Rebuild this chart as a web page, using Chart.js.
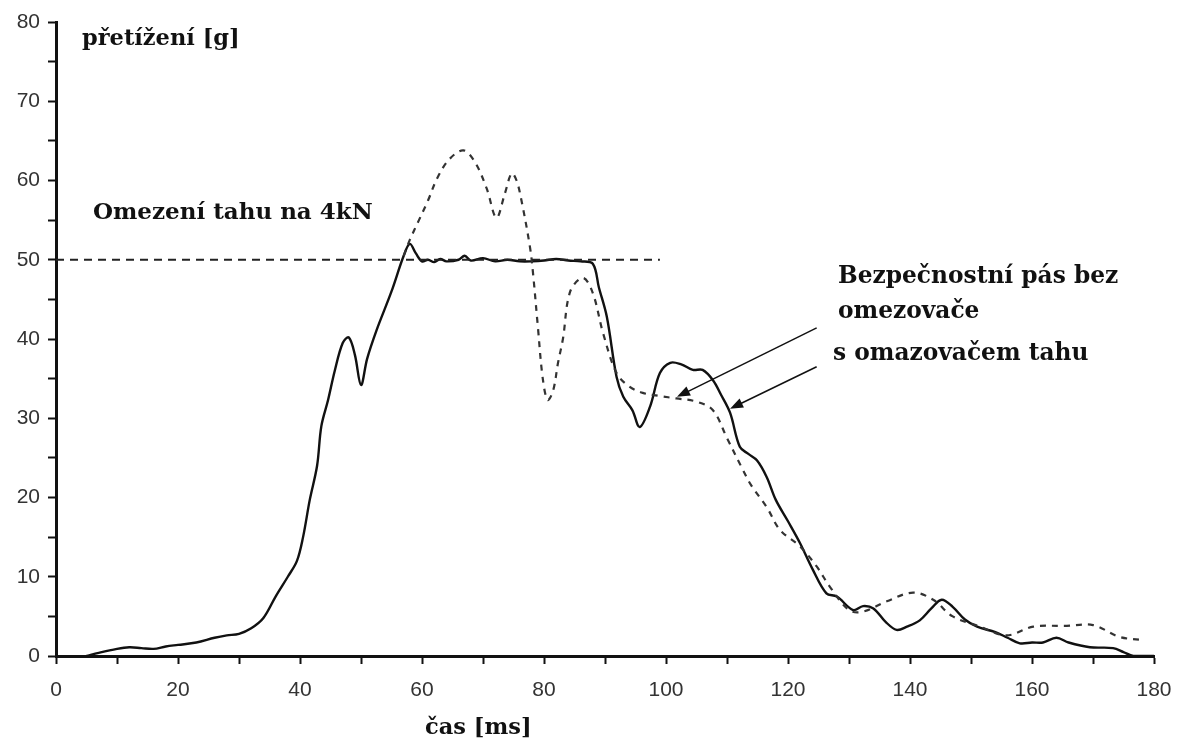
<!DOCTYPE html>
<html lang="cs">
<head>
<meta charset="utf-8">
<title>přetížení [g]</title>
<script src="https://cdn.jsdelivr.net/npm/chart.js@4.4.1/dist/chart.umd.min.js"></script>
<style>
  html, body { margin: 0; padding: 0; background: #fff; }
  #wrap { width: 1179px; height: 744px; position: relative; }
</style>
</head>
<body>
<div id="wrap"><canvas id="chart" width="1179" height="744"></canvas></div>
<script>
// s omezovačem tahu (solid)
const limitedX = [5, 7, 10, 12, 14, 16, 18, 20, 23, 26, 28, 30, 32, 34, 36, 38, 39.5, 40.5, 41.6, 42.8, 43.5, 44.6, 45.7, 47, 48, 49, 50, 51, 52.5, 55, 57, 58, 59, 60, 61, 62, 63, 64, 66, 67, 68, 70, 72, 74, 76, 78, 80, 82, 84, 86, 88, 89, 90.3, 91.9, 93, 94.5, 95.7, 97.4, 99, 100.7, 102.5, 104.4, 106, 107.7, 109, 110.5, 112.1, 113.5, 114.9, 116.5, 118, 120, 122, 124, 126.3, 128, 130.7, 132.3, 134, 136, 137.8, 139.5, 141.6, 143.5, 145.2, 147, 149, 151, 154, 156, 158, 160, 161.8, 164, 166, 169.5, 173.3, 175, 176.6, 180];
const limitedY = [0, 0.4, 0.9, 1.1, 1.0, 0.9, 1.2, 1.4, 1.7, 2.3, 2.6, 2.8, 3.5, 4.8, 7.5, 10, 12, 15, 19.7, 24, 29, 32.3, 36, 39.5, 40.2, 38, 34.2, 37.5, 41, 46, 50.5, 52, 50.8, 49.8, 50, 49.7, 50.1, 49.8, 50, 50.5, 49.9, 50.2, 49.8, 50, 49.8, 49.8, 49.9, 50.1, 49.9, 49.8, 49.5, 46.5, 42.8, 35.2, 32.7, 31, 28.9, 31.5, 35.7, 37, 36.8, 36.1, 36.1, 34.8, 33, 30.7, 26.4, 25.5, 24.7, 22.6, 19.7, 17, 14.2, 11, 7.9, 7.5, 5.8, 6.3, 6, 4.3, 3.3, 3.7, 4.5, 6, 7.1, 6.2, 4.6, 3.7, 3, 2.3, 1.6, 1.7, 1.7, 2.3, 1.7, 1.1, 1, 0.5, 0, 0];

// bez omezovače (dashed), splits off the solid curve near 57 ms
const freeX = [57, 58, 59.5, 61, 62.5, 64.5, 66.8, 68.7, 70.6, 72.2, 73.6, 74.7, 75.5, 76.3, 77.7, 78.2, 79, 79.8, 80.6, 81.5, 82.3, 83.1, 84.3, 86.4, 88, 89.7, 91.9, 94, 96.2, 99, 101.7, 105, 107.7, 110, 112.6, 114, 116.5, 118.7, 122, 124.7, 126.9, 130, 132.3, 136.2, 140.5, 143.8, 147, 151.5, 155.8, 160.2, 165.7, 170, 174.4, 178.5];
const freeY = [50.5, 52.5, 55, 57.5, 60.3, 62.7, 63.8, 62.3, 59, 55.3, 58.4, 60.9, 60, 57.5, 51.6, 48.3, 41.5, 35, 32.3, 33.5, 37, 40, 46, 47.7, 45.8, 40.7, 35.7, 34, 33.2, 32.8, 32.5, 32.1, 31, 27.5, 23.5, 21.5, 18.8, 15.9, 13.8, 11.3, 8.7, 5.8, 5.6, 6.9, 8, 7.1, 5, 3.7, 2.6, 3.7, 3.8, 3.9, 2.4, 2];

// omezení tahu na 4kN
const limitLineX = [0, 99];
const limitLineY = [50, 50];

// arrows: [fromX, fromY, toX, toY] in data units
const arrowFree = [124.7, 41.4, 101.8, 32.7];
const arrowLimited = [124.7, 36.5, 110.5, 31.2];

const xTicks = [0, 20, 40, 60, 80, 100, 120, 140, 160, 180];
const yTicks = [0, 10, 20, 30, 40, 50, 60, 70, 80];

const toPoints = (xs, ys) => xs.map((x, i) => ({ x, y: ys[i] }));

const labelsPlugin = {
  id: "labels",
  afterDraw(chart) {
    const ctx = chart.ctx;
    const xs = chart.scales.x;
    const ys = chart.scales.y;
    ctx.save();
    ctx.fillStyle = "#111";
    ctx.textAlign = "left";
    ctx.textBaseline = "alphabetic";

    ctx.font = "bold 22.5px 'DejaVu Serif'";
    ctx.fillText("přetížení [g]", 82, 45);

    ctx.font = "bold 23px 'DejaVu Serif'";
    ctx.fillText("Omezení tahu na 4kN", 93, 219);

    ctx.font = "bold 23.3px 'DejaVu Serif'";
    ctx.fillText("Bezpečnostní pás bez", 838, 283);
    ctx.fillText("omezovače", 838, 318);
    ctx.fillText("s omazovačem tahu", 833, 360);

    ctx.font = "bold 22.5px 'DejaVu Serif'";
    ctx.fillText("čas [ms]", 425, 734);

    [arrowFree, arrowLimited].forEach((a) => {
      const x1 = xs.getPixelForValue(a[0]);
      const y1 = ys.getPixelForValue(a[1]);
      const x2 = xs.getPixelForValue(a[2]);
      const y2 = ys.getPixelForValue(a[3]);
      const ang = Math.atan2(y2 - y1, x2 - x1);
      ctx.strokeStyle = "#111";
      ctx.lineWidth = 1.5;
      ctx.beginPath();
      ctx.moveTo(x1, y1);
      ctx.lineTo(x2 - 8 * Math.cos(ang), y2 - 8 * Math.sin(ang));
      ctx.stroke();
      ctx.beginPath();
      ctx.moveTo(x2, y2);
      ctx.lineTo(x2 - 13 * Math.cos(ang) + 5 * Math.sin(ang), y2 - 13 * Math.sin(ang) - 5 * Math.cos(ang));
      ctx.lineTo(x2 - 13 * Math.cos(ang) - 5 * Math.sin(ang), y2 - 13 * Math.sin(ang) + 5 * Math.cos(ang));
      ctx.closePath();
      ctx.fill();
    });
    ctx.restore();
  },
};

new Chart(document.getElementById("chart"), {
  type: "scatter",
  data: {
    datasets: [
      {
        label: "Omezení tahu na 4kN",
        data: toPoints(limitLineX, limitLineY),
        showLine: true,
        borderColor: "#222",
        borderWidth: 2,
        borderDash: [8, 6],
        pointRadius: 0,
      },
      {
        label: "Bezpečnostní pás bez omezovače",
        data: toPoints(freeX, freeY),
        showLine: true,
        borderColor: "#333",
        borderWidth: 2.2,
        borderDash: [6, 6],
        tension: 0.35,
        pointRadius: 0,
      },
      {
        label: "s omazovačem tahu",
        data: toPoints(limitedX, limitedY),
        showLine: true,
        borderColor: "#111",
        borderWidth: 2.4,
        tension: 0.35,
        pointRadius: 0,
      },
    ],
  },
  options: {
    responsive: false,
    animation: false,
    layout: { padding: { top: 22, right: 25, left: 0, bottom: 0 } },
    plugins: {
      legend: { display: false },
      tooltip: { enabled: false },
    },
    scales: {
      x: {
        type: "linear",
        min: 0,
        max: 180,
        afterFit: (s) => { s.height = 88; s.paddingLeft = 0; s.paddingRight = 0; },
        afterBuildTicks: (s) => {
          const t = [];
          for (let v = 0; v <= 180; v += 10) t.push({ value: v });
          s.ticks = t;
        },
        ticks: {
          autoSkip: false,
          maxRotation: 0,
          padding: 14,
          color: "#333",
          font: { family: "'Liberation Sans', Arial, sans-serif", size: 21 },
          callback: (v) => (xTicks.includes(v) ? String(v) : ""),
        },
        grid: { drawOnChartArea: false, drawTicks: true, tickLength: 8, tickWidth: 2, tickColor: "#111" },
        border: { display: true, width: 3, color: "#111" },
      },
      y: {
        type: "linear",
        min: 0,
        max: 80,
        afterFit: (s) => { s.width = 56; s.paddingTop = 0; s.paddingBottom = 0; },
        afterBuildTicks: (s) => {
          const t = [];
          for (let v = 0; v <= 80; v += 5) t.push({ value: v });
          s.ticks = t;
        },
        ticks: {
          autoSkip: false,
          padding: 8,
          color: "#333",
          font: { family: "'Liberation Sans', Arial, sans-serif", size: 21 },
          callback: (v) => (yTicks.includes(v) ? String(v) : ""),
        },
        grid: { drawOnChartArea: false, drawTicks: true, tickLength: 8, tickWidth: 2, tickColor: "#111" },
        border: { display: true, width: 3, color: "#111" },
      },
    },
  },
  plugins: [labelsPlugin],
});
</script>
</body>
</html>
